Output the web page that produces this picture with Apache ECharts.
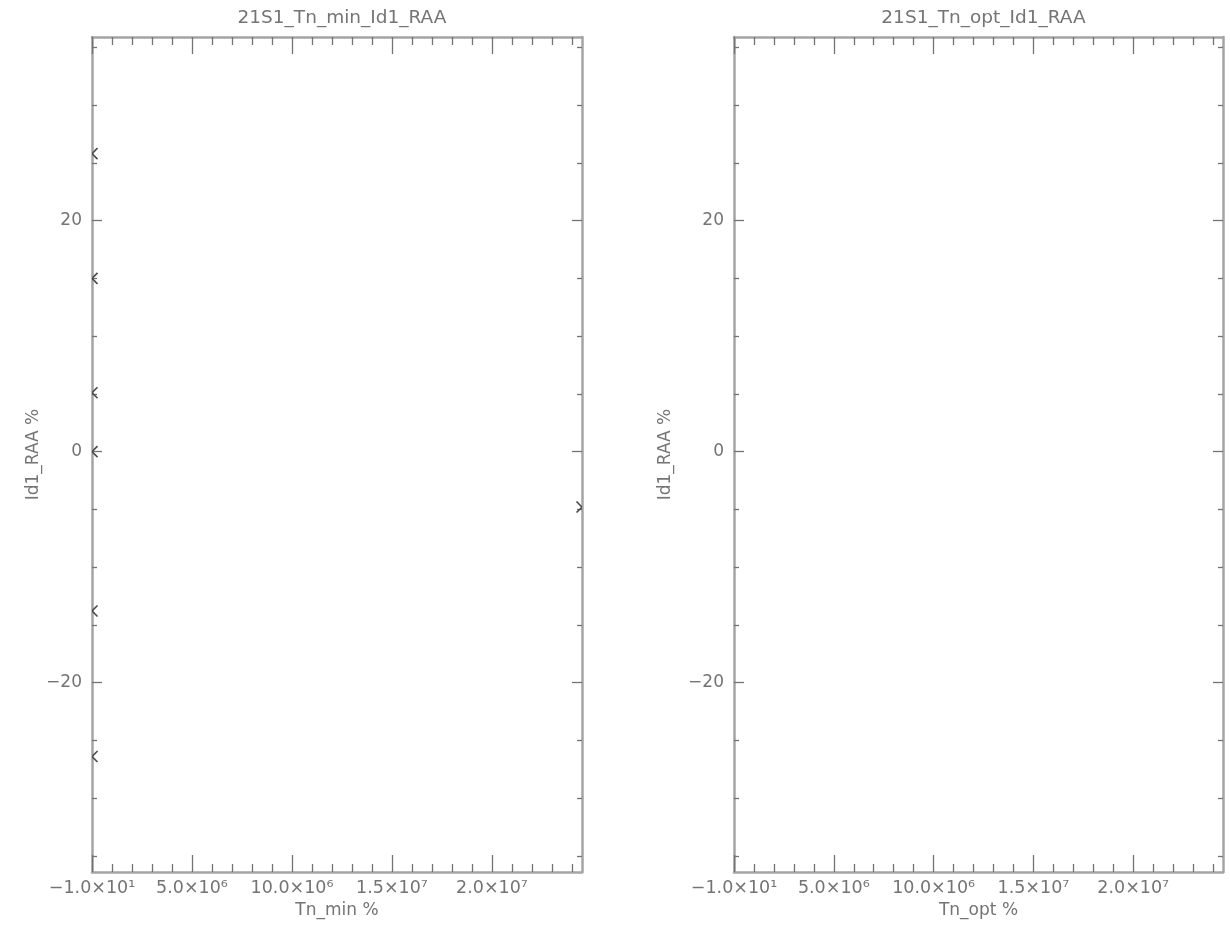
<!DOCTYPE html>
<html>
<head>
<meta charset="utf-8">
<script src="https://cdn.jsdelivr.net/npm/echarts/dist/echarts.min.js"></script>
<style>
  html, body { margin: 0; padding: 0; background: #ffffff; }
  #chart { width: 1230px; height: 935px; }
</style>
</head>
<body>
<div id="chart"></div>
<script>
// ---------------- data ----------------
const plotTitles = ['21S1_Tn_min_Id1_RAA', '21S1_Tn_opt_Id1_RAA'];
const xNames = ['Tn_min %', 'Tn_opt %'];
const yNames = ['Id1_RAA %', 'Id1_RAA %'];

const xMin = -10;
const xMax = 2.45e7;
const yMin = -36.4;
const yMax = 35.9;

const xMajorTicks = [-10, 5e6, 1e7, 1.5e7, 2e7];
const xTickLabels = ['\u22121.0\u00d710\u00b9', '5.0\u00d710\u2076', '10.0\u00d710\u2076', '1.5\u00d710\u2077', '2.0\u00d710\u2077'];
const xMinorTicks = [1e6, 2e6, 3e6, 4e6, 6e6, 7e6, 8e6, 9e6, 1.1e7, 1.2e7, 1.3e7, 1.4e7,
                     1.6e7, 1.7e7, 1.8e7, 1.9e7, 2.1e7, 2.2e7, 2.3e7, 2.4e7];

const yMajorTicks = [-20, 0, 20];
const yTickLabels = ['\u221220', '0', '20'];
const yMinorTicks = [-35, -30, -25, -15, -10, -5, 5, 10, 15, 25, 30, 35];

// left panel: Tn_min vs Id1_RAA
const tnMin = [-10, -10, -10, -10, -10, -10, 2.45e7];
const raaMin = [25.8, 15.0, 5.1, 0.0, -13.8, -26.4, -4.8];
// right panel: Tn_opt vs Id1_RAA (no visible points)
const tnOpt = [];
const raaOpt = [];

// ---------------- styling ----------------
const FONT = 'DejaVu Sans';
const TEXT_COLOR = '#747474';
const AXIS_COLOR = '#a4a4a4';
const TICK_COLOR = '#737373';
const MARK_COLOR = '#4a4a4a';

const grids = [
  { left: 92, top: 37, width: 490, height: 835 },
  { left: 734, top: 37, width: 489, height: 835 }
];
const yNameGaps = [48, 60];

function labelFor(ticks, labels) {
  return function (v) {
    for (let i = 0; i < ticks.length; i++) {
      if (Math.abs(ticks[i] - v) < 1e-6 * Math.max(1, Math.abs(ticks[i]))) return labels[i];
    }
    return '';
  };
}

const xAxes = [];
const yAxes = [];
for (let g = 0; g < 2; g++) {
  const xBase = {
    type: 'value', gridIndex: g, min: xMin, max: xMax,
    splitLine: { show: false },
    axisLine: { show: true, onZero: false, lineStyle: { color: AXIS_COLOR, width: 2.5 } }
  };
  // bottom major (with labels + name)
  xAxes.push(Object.assign({}, xBase, {
    position: 'bottom',
    name: xNames[g], nameLocation: 'middle', nameGap: 28,
    nameTextStyle: { fontFamily: FONT, fontSize: 17, color: TEXT_COLOR },
    axisTick: { show: true, inside: true, length: 17, customValues: xMajorTicks,
                lineStyle: { color: TICK_COLOR, width: 1.3 } },
    axisLabel: { show: true, customValues: xMajorTicks, margin: 7,
                 formatter: labelFor(xMajorTicks, xTickLabels),
                 fontFamily: FONT, fontSize: 17.5, color: TEXT_COLOR }
  }));
  // top major
  xAxes.push(Object.assign({}, xBase, {
    position: 'top',
    axisTick: { show: true, inside: true, length: 17, customValues: xMajorTicks,
                lineStyle: { color: TICK_COLOR, width: 1.3 } },
    axisLabel: { show: false }
  }));
  // bottom minor
  xAxes.push(Object.assign({}, xBase, {
    position: 'bottom',
    axisLine: { show: false, onZero: false },
    axisTick: { show: true, inside: true, length: 8, customValues: xMinorTicks,
                lineStyle: { color: TICK_COLOR, width: 1.3 } },
    axisLabel: { show: false }
  }));
  // top minor
  xAxes.push(Object.assign({}, xBase, {
    position: 'top',
    axisLine: { show: false, onZero: false },
    axisTick: { show: true, inside: true, length: 8, customValues: xMinorTicks,
                lineStyle: { color: TICK_COLOR, width: 1.3 } },
    axisLabel: { show: false }
  }));

  const yBase = {
    type: 'value', gridIndex: g, min: yMin, max: yMax,
    splitLine: { show: false },
    axisLine: { show: true, onZero: false, lineStyle: { color: AXIS_COLOR, width: 2.5 } }
  };
  yAxes.push(Object.assign({}, yBase, {
    position: 'left',
    name: yNames[g], nameLocation: 'middle', nameGap: yNameGaps[g], nameRotate: 90,
    nameTextStyle: { fontFamily: FONT, fontSize: 17, color: TEXT_COLOR },
    axisTick: { show: true, inside: true, length: 10, customValues: yMajorTicks,
                lineStyle: { color: TICK_COLOR, width: 1.3 } },
    axisLabel: { show: true, customValues: yMajorTicks, margin: 10,
                 formatter: labelFor(yMajorTicks, yTickLabels),
                 fontFamily: FONT, fontSize: 17, color: TEXT_COLOR }
  }));
  yAxes.push(Object.assign({}, yBase, {
    position: 'right',
    axisTick: { show: true, inside: true, length: 10, customValues: yMajorTicks,
                lineStyle: { color: TICK_COLOR, width: 1.3 } },
    axisLabel: { show: false }
  }));
  yAxes.push(Object.assign({}, yBase, {
    position: 'left',
    axisLine: { show: false, onZero: false },
    axisTick: { show: true, inside: true, length: 5, customValues: yMinorTicks,
                lineStyle: { color: TICK_COLOR, width: 1.3 } },
    axisLabel: { show: false }
  }));
  yAxes.push(Object.assign({}, yBase, {
    position: 'right',
    axisLine: { show: false, onZero: false },
    axisTick: { show: true, inside: true, length: 5, customValues: yMinorTicks,
                lineStyle: { color: TICK_COLOR, width: 1.3 } },
    axisLabel: { show: false }
  }));
}

function xMarker(params, api) {
  const p = api.coord([api.value(0), api.value(1)]);
  const s = 5.5;
  const st = { stroke: MARK_COLOR, lineWidth: 1.6 };
  return {
    type: 'group',
    children: [
      { type: 'line', shape: { x1: p[0] - s, y1: p[1] - s, x2: p[0] + s, y2: p[1] + s }, style: st },
      { type: 'line', shape: { x1: p[0] - s, y1: p[1] + s, x2: p[0] + s, y2: p[1] - s }, style: st }
    ]
  };
}

const series = [
  {
    type: 'custom', xAxisIndex: 0, yAxisIndex: 0, clip: true,
    renderItem: xMarker, encode: { x: 0, y: 1 },
    data: tnMin.map((x, i) => [x, raaMin[i]]),
    animation: false, silent: true
  },
  {
    type: 'custom', xAxisIndex: 4, yAxisIndex: 4, clip: true,
    renderItem: xMarker, encode: { x: 0, y: 1 },
    data: tnOpt.map((x, i) => [x, raaOpt[i]]),
    animation: false, silent: true
  }
];

const option = {
  backgroundColor: '#ffffff',
  animation: false,
  title: plotTitles.map((t, g) => ({
    text: t,
    left: grids[g].left + grids[g].width / 2,
    textAlign: 'center',
    top: 4,
    textStyle: { fontFamily: FONT, fontSize: 18.5, fontWeight: 'normal', color: TEXT_COLOR }
  })),
  grid: grids.map(r => Object.assign({ containLabel: false }, r)),
  xAxis: xAxes,
  yAxis: yAxes,
  series: series
};

const chart = echarts.init(document.getElementById('chart'), null, { renderer: 'canvas' });
chart.setOption(option);
</script>
</body>
</html>
